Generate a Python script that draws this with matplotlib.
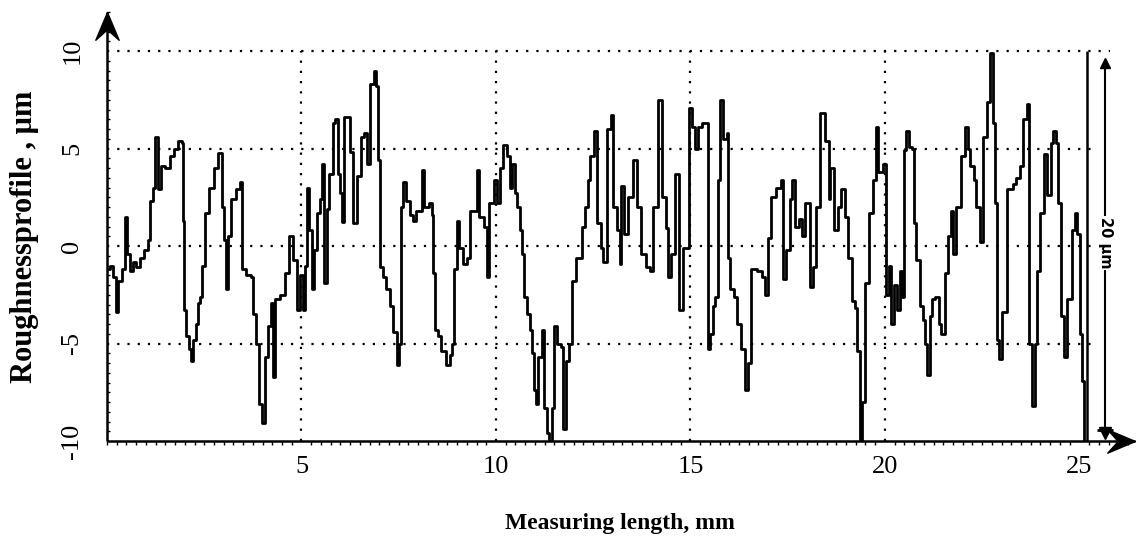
import matplotlib
matplotlib.use('Agg')
import matplotlib.pyplot as plt
from matplotlib.path import Path
from matplotlib.ticker import MultipleLocator, FixedLocator

# ---- data (x in mm, y in um) ----
profile_x = [0.0, 0.08, 0.15, 0.22, 0.28, 0.38, 0.46, 0.52, 0.58, 0.66, 0.75, 0.85, 0.95, 1.05, 1.1, 1.18,
             1.23, 1.3, 1.38, 1.5, 1.62, 1.72, 1.82, 1.92, 1.95, 1.98, 2.03, 2.1, 2.16, 2.22, 2.28, 2.34,
             2.4, 2.45, 2.52, 2.62, 2.74, 2.86, 2.95, 3.0, 3.06, 3.12, 3.2, 3.32, 3.42, 3.48, 3.58, 3.7,
             3.76, 3.84, 3.92, 3.98, 4.06, 4.15, 4.22, 4.28, 4.33, 4.45, 4.58, 4.68, 4.78, 4.88, 4.96,
             5.05, 5.1, 5.13, 5.2, 5.26, 5.33, 5.4, 5.48, 5.54, 5.58, 5.65, 5.72, 5.8, 5.86, 5.95, 5.99,
             6.03, 6.1, 6.2, 6.25, 6.33, 6.42, 6.52, 6.62, 6.68, 6.75, 6.86, 6.92, 6.98, 7.02, 7.1, 7.18,
             7.28, 7.36, 7.45, 7.5, 7.55, 7.62, 7.68, 7.78, 7.88, 7.95, 8.09, 8.15, 8.28, 8.35, 8.39, 8.43,
             8.52, 8.6, 8.72, 8.82, 8.88, 8.93, 8.99, 9.05, 9.15, 9.25, 9.33, 9.5, 9.57, 9.7, 9.76, 9.82,
             9.95, 10.02, 10.1, 10.18, 10.28, 10.35, 10.42, 10.48, 10.55, 10.62, 10.68, 10.72, 10.8,
             10.87, 10.92, 10.98, 11.03, 11.09, 11.18, 11.24, 11.32, 11.37, 11.43, 11.5, 11.58, 11.68,
             11.73, 11.8, 11.88, 11.95, 12.05, 12.2, 12.3, 12.36, 12.42, 12.53, 12.6, 12.7, 12.76, 12.85,
             12.97, 13.02, 13.1, 13.19, 13.22, 13.3, 13.4, 13.53, 13.62, 13.72, 13.85, 13.96, 14.04,
             14.17, 14.28, 14.36, 14.43, 14.5, 14.6, 14.71, 14.82, 14.97, 15.03, 15.12, 15.2, 15.3,
             15.42, 15.46, 15.5, 15.58, 15.63, 15.7, 15.76, 15.85, 15.93, 15.97, 16.03, 16.12, 16.19,
             16.3, 16.4, 16.47, 16.55, 16.7, 16.85, 16.92, 17.0, 17.08, 17.2, 17.33, 17.37, 17.47, 17.55,
             17.6, 17.68, 17.8, 17.88, 17.94, 18.07, 18.15, 18.22, 18.33, 18.45, 18.55, 18.6, 18.68,
             18.8, 18.88, 18.98, 19.05, 19.15, 19.22, 19.28, 19.35, 19.42, 19.5, 19.6, 19.7, 19.77,
             19.82, 19.95, 20.03, 20.1, 20.16, 20.24, 20.3, 20.38, 20.45, 20.5, 20.55, 20.62, 20.7,
             20.75, 20.8, 20.9, 20.98, 21.04, 21.08, 21.15, 21.2, 21.3, 21.38, 21.45, 21.55, 21.62,
             21.7, 21.76, 21.83, 21.95, 22.06, 22.14, 22.2, 22.28, 22.35, 22.44, 22.52, 22.62, 22.7,
             22.77, 22.83, 22.88, 22.93, 23.02, 23.15, 23.3, 23.38, 23.47, 23.56, 23.66, 23.7, 23.77,
             23.86, 23.92, 24.0, 24.1, 24.16, 24.26, 24.33, 24.4, 24.46, 24.52, 24.6, 24.68, 24.8,
             24.88, 24.95, 25.02, 25.07, 25.12]
profile_y = [-1.2, -1.0, -1.6, -3.4, -1.8, -1.2, 1.5, -0.4, -1.3, -0.8, -1.1, -0.6, -0.2, 0.3, 2.3, 3.0,
             5.6, 2.9, 4.1, 4.0, 4.6, 5.0, 5.4, 5.3, 1.3, -3.3, -4.6, -5.3, -5.9, -4.8, -4.0, -2.9,
             -2.6, -1.0, 1.7, 3.0, 4.0, 4.75, 2.0, 0.3, -2.2, 0.5, 2.4, 2.9, 3.3, -1.2, -1.5, -1.6,
             -3.5, -5.0, -8.1, -9.1, -5.7, -4.1, -2.9, -6.7, -2.7, -2.5, -1.4, 0.5, -0.7, -3.3, -1.5,
             -3.3, -1.0, 3.0, 0.8, -2.2, -0.2, 1.7, 2.4, 4.2, -1.9, 1.9, 3.7, 6.3, 6.5, 3.7, 2.7,
             1.25, 6.6, 6.6, 4.8, 1.2, 3.6, 5.6, 5.8, 4.2, 8.3, 9.0, 8.2, 4.4, -1.1, -1.6, -2.2,
             -3.1, -4.4, -6.1, -5.0, 2.0, 3.3, 2.3, 1.6, 1.3, 1.8, 3.9, 2.0, 2.2, 1.6, -1.4, -4.3,
             -4.6, -5.4, -6.1, -5.6, -5.0, -1.2, 1.3, -0.1, -0.9, -0.6, 1.8, 3.9, 1.5, 1.0, -1.6, 2.2,
             3.4, 2.2, 4.0, 5.2, 4.6, 3.0, 4.2, 2.7, 2.0, 0.8, -0.4, -2.6, -3.5,
             -4.3, -5.5, -7.4, -8.1, -5.7, -4.3, -8.3, -9.6, -10.0, -8.3, -4.1, -5.0, -5.2,
             -9.4, -5.9, -5.0, -1.8, -0.6, 1.0, 2.0, 3.4, 4.6, 5.9, 1.2, -0.1, -0.8, 6.0,
             6.7, 2.0, 0.8, -0.9, 3.1, 0.6, 2.5, 4.4, 2.0, -0.4, -1.1, -1.3, 2.0,
             7.5, 2.5, 0.9, -1.6, -0.4, 3.7, -3.3, -0.1, 7.1, 6.1, 5.0, 6.1, 6.3,
             6.3, -5.3, -4.5, -3.1, -2.6, 3.4, 7.5, 5.5, 5.8, -0.6, -2.2, -2.6, -4.0,
             -5.3, -7.4, -6.0, -1.2, -1.3, -1.6, -2.5, 0.4, 2.5, 3.0, 3.4, -1.7, -0.2, 2.4,
             3.4, 1.0, 1.4, 0.5, 2.2, -2.1, -1.1, 2.0, 6.8, 5.4, 2.4, 4.0, 0.8,
             2.0, 2.9, 1.5, -0.6, -2.8, -3.2, -5.4, -10.0, -8.0, -1.9, 1.7, 3.4, 6.1,
             3.8, 4.2, -2.5, -1.0, -4.0, -2.0, -3.3, -1.3, -2.6, 4.9, 5.9, 5.1, 5.0,
             1.2, -0.7, -3.1, -3.8, -5.0, -6.6, -3.6, -2.7, -2.6, -4.0, -4.5, -1.4, 0.5,
             1.8, -0.4, 2.0, 4.6, 6.1, 5.0, 4.1, 3.4, 2.0, 0.2, 5.6, 7.4, 9.9,
             6.3, 2.2, -4.8, -5.8, -3.4, 2.9, 3.2, 3.5, 4.1, 6.5, 7.3, -5.0, -8.2,
             -5.0, -1.3, 1.7, 4.7, 2.6, 5.3, 5.9, 5.3, 2.2, -3.6, -5.7, -2.7, 0.8,
             1.7, 0.6, -4.5, -6.9, -10.0]

x_ticks = [5, 10, 15, 20, 25]
y_ticks = [-10, -5, 0, 5, 10]
grid_x = [5, 10, 15, 20]
grid_y = [-5, 0, 5, 10]
end_line_x = 25.19
scale_bar_x = 25.66
scale_bar_range = (-9.6, 9.4)
scale_bar_label = '20 μm'
x_label = 'Measuring length, mm'
y_label = 'Roughnessprofile , μm'

serif = ['Liberation Serif', 'DejaVu Serif']

fig = plt.figure(figsize=(11.36, 5.44), dpi=100)
ax = fig.add_axes([107 / 1136, 103 / 544, 1028 / 1136, 429 / 544])
ax.set_xlim(0, 26.43)
ax.set_ylim(-10, 12.0)

for s in ['top', 'right']:
    ax.spines[s].set_visible(False)
for s in ['left', 'bottom']:
    ax.spines[s].set_linewidth(1.8)
    ax.spines[s].set_capstyle('butt')

# grid (dotted)
dot = (0, (1, 3.6))
ax.hlines(grid_y, 0, [25.3, 25.3, 25.3, 25.8], colors='k', linestyles=[dot], linewidth=1.6, zorder=1)
ax.vlines(grid_x, -10, 10, colors='k', linestyles=[dot], linewidth=1.6, zorder=1)

# profile
ax.plot(profile_x, profile_y, drawstyle='steps-post', color='k', linewidth=2.0, zorder=3)
ax.vlines(end_line_x, -10, 10, colors='k', linewidth=1.8, zorder=3)

# scale bar
ax.vlines(scale_bar_x, scale_bar_range[0], scale_bar_range[1], colors='k', linewidth=1.5, zorder=3)
ax.plot([scale_bar_x], [scale_bar_range[1]], marker='^', ms=7, color='k', zorder=4)
ax.plot([scale_bar_x], [scale_bar_range[0]], marker='v', ms=9, color='k', zorder=4)
ax.hlines(scale_bar_range[0] + 0.15, scale_bar_x - 0.2, scale_bar_x + 0.2, colors='k', linewidth=2, zorder=4)
ax.text(scale_bar_x, 0.15, scale_bar_label, rotation=270, ha='center', va='center', fontsize=10.5,
        fontweight='bold', family=['DejaVu Sans'],
        bbox=dict(boxstyle='square,pad=0.1', fc='white', ec='none'), zorder=5)

# arrow heads on the axes
right_arrow = Path([(0, 0), (-1, 0.42), (-0.62, 0), (-1, -0.42), (0, 0)],
                   [Path.MOVETO, Path.LINETO, Path.LINETO, Path.LINETO, Path.CLOSEPOLY])
up_arrow = Path([(0, 0), (0.42, -1), (0, -0.62), (-0.42, -1), (0, 0)],
                [Path.MOVETO, Path.LINETO, Path.LINETO, Path.LINETO, Path.CLOSEPOLY])
ax.plot([1], [0], marker=right_arrow, ms=40, color='k', transform=ax.transAxes, clip_on=False, zorder=6)
ax.plot([0], [1], marker=up_arrow, ms=40, color='k', transform=ax.transAxes, clip_on=False, zorder=6)

# ticks
ax.xaxis.set_major_locator(FixedLocator(x_ticks))
ax.yaxis.set_major_locator(FixedLocator(y_ticks))
ax.xaxis.set_minor_locator(MultipleLocator(0.25))
ax.yaxis.set_minor_locator(MultipleLocator(0.5))
ax.set_xticklabels([str(v) for v in x_ticks])
ax.set_yticklabels([str(v) for v in y_ticks])
ax.tick_params(axis='x', which='major', length=0, pad=11, labelsize=19)
ax.tick_params(axis='y', which='major', length=0, pad=17, labelsize=19, labelrotation=90)
ax.tick_params(axis='x', which='minor', length=3, width=1.0, direction='out')
ax.tick_params(axis='y', which='minor', length=2.5, width=1.0, direction='in')
for lab in ax.get_xticklabels() + ax.get_yticklabels():
    lab.set_family(serif)
for lab in ax.get_yticklabels():
    lab.set_va('center')

ax.set_xlabel(x_label, fontsize=17, fontweight='bold', family=serif)
ax.set_ylabel(y_label, fontsize=22, fontweight='bold', family=serif)
ax.xaxis.set_label_coords(0.499, -0.168)
ax.yaxis.set_label_coords(-0.066, 0.475)

fig.savefig('out.png', dpi=100)
